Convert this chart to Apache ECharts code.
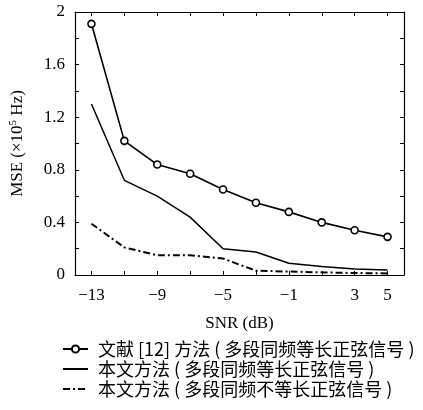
<!DOCTYPE html>
<html><head><meta charset="utf-8">
<script src="https://cdn.jsdelivr.net/npm/echarts@6/dist/echarts.min.js"></script>
<style>html,body{margin:0;padding:0;background:#fff}#c{width:423px;height:410px}</style>
</head><body><div id="c"></div>
<script>
const snr = [-13, -11, -9, -7, -5, -3, -1, 1, 3, 5];
const ref12 = [1.91, 1.02, 0.84, 0.77, 0.65, 0.55, 0.48, 0.40, 0.34, 0.29];
const oursEqual = [1.30, 0.72, 0.60, 0.44, 0.20, 0.175, 0.09, 0.065, 0.045, 0.038];
const oursUnequal = [0.39, 0.21, 0.15, 0.15, 0.125, 0.033, 0.026, 0.02, 0.015, 0.012];
const xLabels = [-13, -9, -5, -1, 3, 5];
const yLabels = [0, 0.4, 0.8, 1.2, 1.6, 2];
const names = ['文献 [12] 方法 ( 多段同频等长正弦信号 )', '本文方法 ( 多段同频等长正弦信号 )', '本文方法 ( 多段同频不等长正弦信号 )'];

const serif = 'Liberation Serif, DejaVu Serif, serif';
const cjk = 'Noto Sans CJK SC, sans-serif';
const pts = arr => snr.map((x, i) => [x, arr[i]]);
const fmt = v => (v < 0 ? '\u2212' + (-v) : String(v));
const tickVals = [];
for (let v = 0; v <= 2.0001; v += 0.2) tickVals.push(+v.toFixed(1));

const chart = echarts.init(document.getElementById('c'));
const axisLine = { show: true, onZero: false, lineStyle: { color: '#000', width: 1.2 } };
const tick = vals => ({ show: true, inside: true, length: 4, customValues: vals, lineStyle: { color: '#000' } });
chart.setOption({
  animation: false,
  grid: { left: 72, right: 19, top: 12, bottom: 135 },
  legend: {
    orient: 'vertical', left: 62, top: 339, padding: 0, itemGap: 0, itemWidth: 25, itemHeight: 9,
    textStyle: { fontFamily: cjk, fontSize: 18, color: '#000', lineHeight: 20, padding: [0, 0, 0, 5] },
    data: [
      { name: names[0] },
      { name: names[1], itemStyle: { opacity: 0 } },
      { name: names[2], itemStyle: { opacity: 0 } }
    ]
  },
  xAxis: [{
    type: 'value', min: -14, max: 6, position: 'bottom',
    name: 'SNR (dB)', nameLocation: 'middle', nameGap: 40,
    nameTextStyle: { fontFamily: serif, fontSize: 17, color: '#000' },
    axisLine: axisLine, axisTick: tick(snr),
    axisLabel: { customValues: xLabels, formatter: fmt, fontFamily: serif, fontSize: 17, color: '#000', margin: 12 },
    splitLine: { show: false }
  }, {
    type: 'value', min: -14, max: 6, position: 'top',
    axisLine: axisLine, axisTick: tick(snr),
    axisLabel: { show: false }, splitLine: { show: false }
  }],
  yAxis: [{
    type: 'value', min: 0, max: 2, position: 'left',
    name: '{a|MSE (×10}{s|5}{a| Hz)}', nameLocation: 'middle', nameGap: 48, nameRotate: 90,
    nameTextStyle: { rich: { a: { fontFamily: serif, fontSize: 17, color: '#000' }, s: { fontFamily: serif, fontSize: 11, color: '#000', verticalAlign: 'bottom', padding: [0, 0, 8, 0] } } },
    axisLine: axisLine, axisTick: tick(tickVals),
    axisLabel: { customValues: yLabels, formatter: v => String(+v.toFixed(1)), fontFamily: serif, fontSize: 17, color: '#000', margin: 10 },
    splitLine: { show: false }
  }, {
    type: 'value', min: 0, max: 2, position: 'right',
    axisLine: axisLine, axisTick: tick(tickVals),
    axisLabel: { show: false }, splitLine: { show: false }
  }],
  series: [{
    name: names[0], type: 'line', data: pts(ref12),
    symbol: 'circle', symbolSize: 7, showSymbol: true,
    lineStyle: { color: '#000', width: 1.6 },
    itemStyle: { color: '#fff', borderColor: '#000', borderWidth: 1.6 }
  }, {
    name: names[1], type: 'line', data: pts(oursEqual), symbol: 'none',
    lineStyle: { color: '#000', width: 1.5 }, itemStyle: { color: '#000' }
  }, {
    name: names[2], type: 'line', data: pts(oursUnequal), symbol: 'none',
    lineStyle: { color: '#000', width: 2, type: [7, 3, 2, 3] }, itemStyle: { color: '#000' }
  }]
});
</script></body></html>
